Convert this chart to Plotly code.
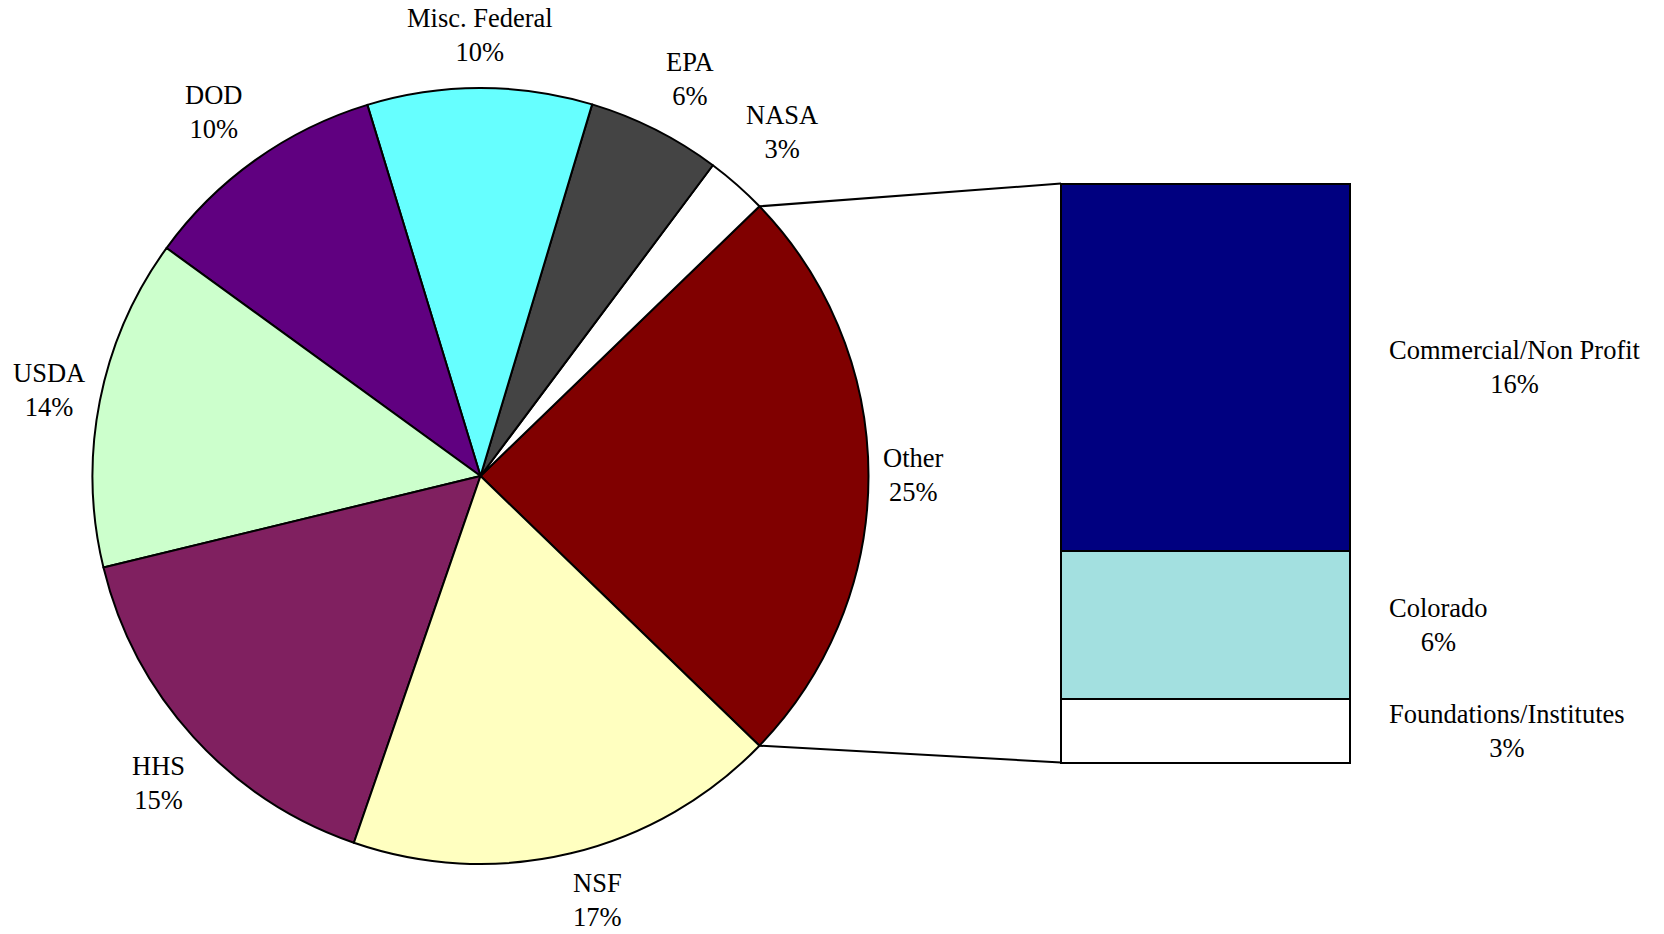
import math
import plotly.graph_objects as go

# ---------------- data ----------------
pie_labels = ["Other", "NASA", "EPA", "Misc. Federal", "DOD", "USDA", "HHS", "NSF"]
pie_values = [24.45, 2.55, 5.57, 9.35, 10.29, 13.78, 15.91, 18.05]
pie_pct_text = ["25%", "3%", "6%", "10%", "10%", "14%", "15%", "17%"]
pie_colors = ["#800000", "#ffffff", "#444444", "#66ffff", "#600080", "#ccffcc", "#802060", "#ffffc0"]

other_labels = ["Foundations/Institutes", "Colorado", "Commercial/Non Profit"]
other_values = [2.7, 6.25, 15.5]
other_pct_text = ["3%", "6%", "16%"]
other_colors = ["#ffffff", "#a3e0e0", "#000080"]

# ---------------- layout constants (pixels) ----------------
W, H = 1664, 934
CX, CY, R = 480.5, 476.0, 388.0          # pie centre and radius
BX0, BX1, BTOP, BBOT = 1061.0, 1350.0, 183.5, 762.5   # bar box
PAD = 4.0
LABEL_K = 1.147
BAR_LABEL_GAP = 37
FONT = dict(family="Liberation Serif, Times New Roman, serif", size=26.5, color="black")
# small per-label nudges (px) mimicking the spreadsheet's label placement
LABEL_NUDGE = {
    "Other": (-12, -1), "NASA": (7, -10), "EPA": (9, 0), "Misc. Federal": (0, 4),
    "DOD": (-9, -2), "USDA": (5, 0), "HHS": (7, 7), "NSF": (13, -9),
}


def px(x):
    return x / W


def py(y):
    return 1 - y / H


total = sum(pie_values)
other_deg = 360.0 * pie_values[0] / total
rotation = 90.0 - other_deg / 2.0   # centre the "Other" slice at 3 o'clock

fig = go.Figure()

fig.add_trace(go.Pie(
    labels=pie_labels,
    values=pie_values,
    sort=False,
    direction="counterclockwise",
    rotation=rotation,
    textinfo="none",
    marker=dict(colors=pie_colors, line=dict(color="black", width=2)),
    domain=dict(x=[px(CX - R), px(CX + R)], y=[py(CY + R), py(CY - R)]),
    showlegend=False,
    hoverinfo="label+percent",
))

for lab, val, col in zip(other_labels, other_values, other_colors):
    fig.add_trace(go.Bar(
        x=[0], y=[val], name=lab, width=1.0,
        marker=dict(color=col, line=dict(color="black", width=2)),
        showlegend=False, hoverinfo="name+y",
    ))

annotations = []
# pie labels, placed along each slice's mid-angle
start = -other_deg / 2.0
for lab, val, pct in zip(pie_labels, pie_values, pie_pct_text):
    span = 360.0 * val / total
    mid = math.radians(start + span / 2.0)
    start += span
    ndx, ndy = LABEL_NUDGE.get(lab, (0, 0))
    lx = CX + LABEL_K * R * math.cos(mid) + ndx
    ly = CY - LABEL_K * R * math.sin(mid) + ndy
    annotations.append(dict(
        x=px(lx), y=py(ly), xref="paper", yref="paper",
        text=f"{lab}<br>{pct}", showarrow=False, font=FONT,
        xanchor="center", yanchor="middle", align="center",
    ))

# bar labels at the mid-height of each segment
cum = 0.0
for lab, val, pct in zip(other_labels, other_values, other_pct_text):
    annotations.append(dict(
        x=px(BX1 + BAR_LABEL_GAP), y=cum + val / 2.0, xref="paper", yref="y",
        text=f"{lab}<br>{pct}", showarrow=False, font=FONT,
        xanchor="left", yanchor="middle", align="center",
    ))
    cum += val

# connector lines from the "Other" slice edges to the bar corners
half = math.radians(other_deg / 2.0)
top_pt = (CX + R * math.cos(half), CY - R * math.sin(half))
bot_pt = (CX + R * math.cos(half), CY + R * math.sin(half))
shapes = [
    dict(type="line", xref="paper", yref="paper",
         x0=px(top_pt[0]), y0=py(top_pt[1]), x1=px(BX0), y1=py(BTOP),
         line=dict(color="black", width=2)),
    dict(type="line", xref="paper", yref="paper",
         x0=px(bot_pt[0]), y0=py(bot_pt[1]), x1=px(BX0), y1=py(BBOT),
         line=dict(color="black", width=2)),
]

sub_total = sum(other_values)
xpad = PAD / (BX1 - BX0)
ypad = sub_total * PAD / (BBOT - BTOP)

fig.update_layout(
    width=W, height=H,
    margin=dict(l=0, r=0, t=0, b=0),
    paper_bgcolor="white", plot_bgcolor="rgba(0,0,0,0)",
    barmode="stack",
    xaxis=dict(domain=[px(BX0 - PAD), px(BX1 + PAD)], range=[-0.5 - xpad, 0.5 + xpad],
               visible=False, fixedrange=True),
    yaxis=dict(domain=[py(BBOT + PAD), py(BTOP - PAD)], range=[-ypad, sub_total + ypad],
               visible=False, fixedrange=True),
    annotations=annotations,
    shapes=shapes,
    font=FONT,
)

fig.write_html(
    "out.html",
    config={"displayModeBar": False},
    post_script="document.body.style.margin='0';document.body.style.overflow='hidden';",
)
